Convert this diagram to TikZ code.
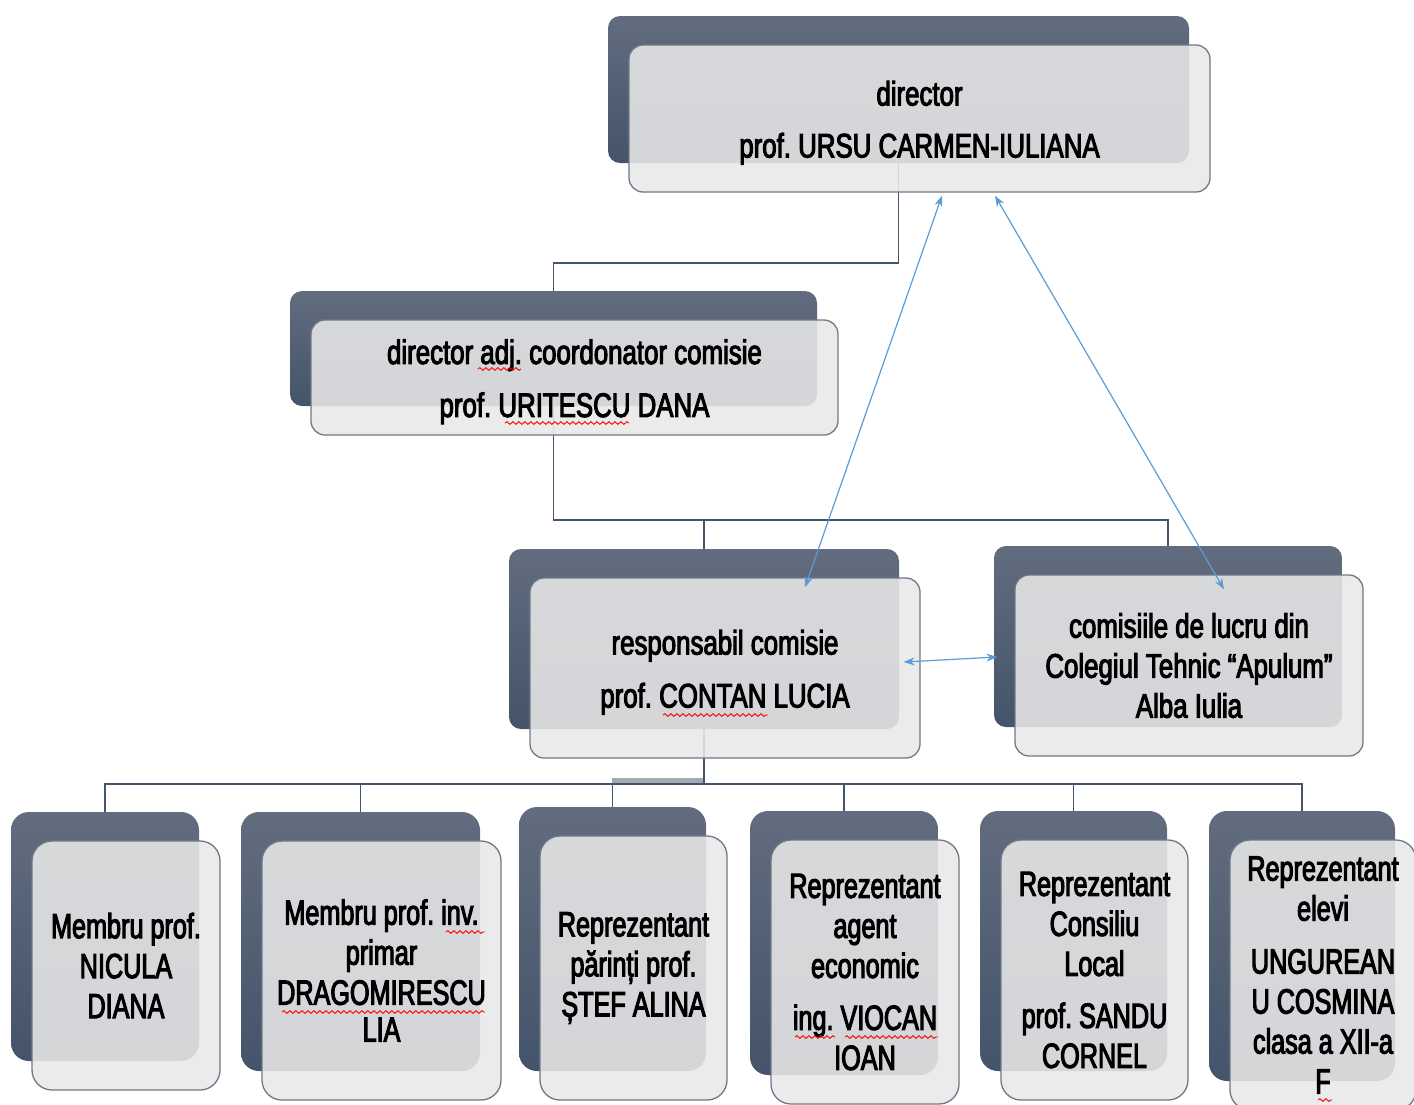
\documentclass[tikz,border=0pt]{standalone}
\usepackage{fontspec}
\setmainfont{Liberation Sans}[FakeStretch=0.72,FakeBold=3]
\newfontfamily\topfam{Liberation Sans}[FakeStretch=0.76,FakeBold=3]
\usetikzlibrary{calc,decorations.pathmorphing,arrows.meta}
\definecolor{slatebot}{HTML}{44546A}
\definecolor{slatetop}{HTML}{626C7E}
\definecolor{frontfill}{HTML}{E8E8E8}
\definecolor{frontline}{HTML}{6E7887}
\definecolor{conncol}{HTML}{44546A}
\definecolor{arrowblue}{HTML}{5B9BD5}
\definecolor{barcol}{HTML}{A3A9B3}
\newcommand\lift{\rule{0pt}{33pt}}
\tikzset{
  backbox/.style={rectangle, rounded corners=12pt, top color=slatetop, bottom color=slatebot, draw=none, inner sep=0pt},
  frontbox/.style={rectangle, rounded corners=14pt, fill=frontfill, fill opacity=0.88, text opacity=1, draw=frontline, line width=1.3pt, inner sep=0pt, align=center},
  topfont/.style={font=\frenchspacing\topfam\fontsize{34}{40}\selectfont},
  botfont/.style={font=\frenchspacing\fontsize{35}{40}\selectfont},
  conn/.style={draw=conncol, line width=1.7pt},
  relarrow/.style={draw=arrowblue, line width=1.2pt, {Stealth[length=11pt,width=8pt]}-{Stealth[length=11pt,width=8pt]}},
  spell/.style={draw=red, line width=0.9pt, decorate, decoration={snake, segment length=6pt, amplitude=1.4pt}},
}
\begin{document}
\begin{tikzpicture}[x=1pt,y=-1pt]
\useasboundingbox (0,0) rectangle (1414,1104);
% back boxes
\node[backbox, minimum width=581pt, minimum height=147pt] (dir-b) at (898.5,89.5) {};
\node[backbox, minimum width=527pt, minimum height=115pt] (adj-b) at (553.5,348.5) {};
\node[backbox, minimum width=390pt, minimum height=180pt] (resp-b) at (704,639) {};
\node[backbox, minimum width=348pt, minimum height=181pt] (com-b) at (1168,636.5) {};
\node[backbox, minimum width=188pt, minimum height=249pt, rounded corners=18pt] (b1-b) at (105,936.5) {};
\node[backbox, minimum width=239pt, minimum height=259pt, rounded corners=18pt] (b2-b) at (360.5,941.5) {};
\node[backbox, minimum width=187pt, minimum height=264pt, rounded corners=18pt] (b3-b) at (612.5,939) {};
\node[backbox, minimum width=188pt, minimum height=264pt, rounded corners=18pt] (b4-b) at (844,943) {};
\node[backbox, minimum width=187pt, minimum height=260pt, rounded corners=18pt] (b5-b) at (1073.5,941) {};
\node[backbox, minimum width=186pt, minimum height=270pt, rounded corners=18pt] (b6-b) at (1302,946) {};
% junction levels
\coordinate (h1) at (0,263);
\coordinate (h2) at (0,520);
\coordinate (h3) at (0,784);
% connectors
\draw[conn] (dir-b.south) -- (dir-b.south |- h1) -| (adj-b.north);
\draw[conn] (adj-b.south) -- (adj-b.south |- h2) -| (resp-b.north);
\draw[conn] (adj-b.south |- h2) -| (com-b.north);
\fill[barcol] ($(resp-b.south |- h3)+(-92,-6)$) rectangle ($(resp-b.south |- h3)$);
\draw[conn] (resp-b.south) -- (resp-b.south |- h3);
\draw[conn] (b1-b.north) |- (b6-b.north |- h3) -- (b6-b.north);
\draw[conn] (b2-b.north) -- (b2-b.north |- h3);
\draw[conn] (b3-b.north) -- (b3-b.north |- h3);
\draw[conn] (b4-b.north) -- (b4-b.north |- h3);
\draw[conn] (b5-b.north) -- (b5-b.north |- h3);
% front boxes
\node[frontbox, topfont, minimum width=581pt, minimum height=147pt] (dir) at ($(dir-b)+(21,29)$) {\lift director\\[12pt]prof. URSU CARMEN-IULIANA};
\node[frontbox, topfont, minimum width=527pt, minimum height=115pt] (adj) at ($(adj-b)+(21,29)$) {\lift director adj. coordonator comisie\\[13pt]prof. URITESCU DANA};
\node[frontbox, topfont, minimum width=390pt, minimum height=180pt] (resp) at ($(resp-b)+(21,29)$) {\lift responsabil comisie\\[13pt]prof. CONTAN LUCIA};
\node[frontbox, topfont, minimum width=348pt, minimum height=181pt] (com) at ($(com-b)+(21,29)$) {comisiile de lucru din\\Colegiul Tehnic “Apulum”\\Alba Iulia};
\node[frontbox, botfont, rounded corners=20pt, minimum width=188pt, minimum height=249pt] (b1) at ($(b1-b)+(21,29)$) {Membru prof.\\NICULA\\DIANA};
\node[frontbox, botfont, rounded corners=20pt, minimum width=239pt, minimum height=259pt] (b2) at ($(b2-b)+(21,29)$) {Membru prof. inv.\\primar\\DRAGOMIRESCU\\[-3pt]LIA};
\node[frontbox, botfont, rounded corners=20pt, minimum width=187pt, minimum height=264pt] (b3) at ($(b3-b)+(21,29)$) {Reprezentant\\părinți prof.\\ȘTEF ALINA};
\node[frontbox, botfont, rounded corners=20pt, minimum width=188pt, minimum height=264pt] (b4) at ($(b4-b)+(21,29)$) {Reprezentant\\agent\\economic\\[12pt]ing. VIOCAN\\IOAN};
\node[frontbox, botfont, rounded corners=20pt, minimum width=187pt, minimum height=260pt] (b5) at ($(b5-b)+(21,29)$) {Reprezentant\\Consiliu\\Local\\[12pt]prof. SANDU\\CORNEL};
\node[frontbox, botfont, rounded corners=20pt, minimum width=186pt, minimum height=270pt] (b6) at ($(b6-b)+(21,29)$) {Reprezentant\\elevi\\[13pt]UNGUREAN\\U COSMINA\\clasa a XII-a\\F};
% relations
\draw[relarrow] ($(resp.north)+(80,10)$) -- ($(dir.south)+(22.5,3)$);
\draw[relarrow] ($(com.north)+(35,15)$) -- ($(dir.south)+(75.5,3)$);
\draw[relarrow] ($(resp.east)+(-17,-6)$) -- ($(com.west)+(-17,-8.5)$);
% spelling marks
\draw[spell] (478,369) -- (521,369);
\draw[spell] (505,423) -- (629,423);
\draw[spell] (663,715) -- (768,715);
\draw[spell] (446,932) -- (485,932);
\draw[spell] (282,1012) -- (485,1012);
\draw[spell] (795,1037) -- (835,1037);
\draw[spell] (845,1037) -- (938,1037);
\draw[spell] (1318,1100) -- (1332,1100);
\end{tikzpicture}
\end{document}
